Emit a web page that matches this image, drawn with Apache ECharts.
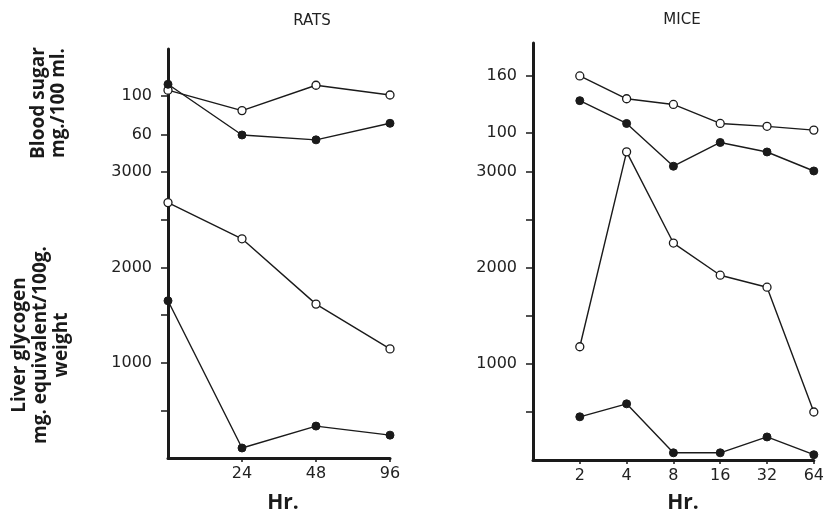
<!DOCTYPE html>
<html>
<head>
<meta charset="utf-8">
<script src="https://cdn.jsdelivr.net/npm/echarts@6/dist/echarts.min.js"></script>
<style>
html,body{margin:0;padding:0;background:#fff;}
#c{width:827px;height:514px;}
</style>
</head>
<body>
<div id="c"></div>
<script>
// ---- data ----
const ratsHours = ['0', '24', '48', '96'];
const ratsSugarFilled = [112, 60, 55, 72];
const ratsSugarOpen = [106, 85, 111, 101];
const ratsGlycogenOpen = [2680, 2300, 1615, 1145];
const ratsGlycogenFilled = [1650, 105, 335, 240];

const miceAxisHours = ['1', '2', '4', '8', '16', '32', '64'];
const miceHours = ['2', '4', '8', '16', '32', '64'];
const miceSugarOpen = [160, 136, 130, 110, 107, 103];
const miceSugarFilled = [134, 110, 65, 90, 80, 60];
const miceGlycogenOpen = [1180, 3210, 2260, 1925, 1800, 500];
const miceGlycogenFilled = [450, 585, 75, 75, 240, 55];

const glycogenTicks = [500, 1000, 1500, 2000, 2500, 3000];
const glycogenLabels = [1000, 2000, 3000];
const ratsSugarLabels = [60, 100];
const miceSugarLabels = [100, 160];

// ---- styles ----
const INK = '#1a1a1a';
const labelFont = { fontFamily: 'DejaVu Sans', fontSize: 16, color: '#222' };

function pairs(hours, vals) { return hours.map((h, i) => [h, vals[i]]); }

function lineSeries(xi, yi, data, filled) {
  return {
    type: 'line', xAxisIndex: xi, yAxisIndex: yi, data: data,
    symbol: 'circle', symbolSize: 8, clip: false, silent: true,
    lineStyle: { color: INK, width: 1.4 },
    itemStyle: filled ? { color: INK, borderColor: INK, borderWidth: 1 }
                      : { color: '#fff', borderColor: INK, borderWidth: 1.3 },
    z: 3
  };
}

const plain = function (v) { return String(v); };

function glycoAxis(gi, max) {
  return {
    type: 'value', gridIndex: gi, position: 'left', min: 0, max: max,
    splitLine: { show: false },
    axisLine: { show: true, lineStyle: { color: INK, width: 3 } },
    axisTick: { show: true, length: 7, inside: false, customValues: glycogenTicks,
                lineStyle: { color: INK, width: 1.5 } },
    axisLabel: Object.assign({ margin: 16, customValues: glycogenLabels, formatter: plain }, labelFont)
  };
}
function sugarAxis(gi, min, max, labels) {
  return {
    type: 'value', gridIndex: gi, position: 'left', min: min, max: max,
    splitLine: { show: false },
    axisLine: { show: false },
    axisTick: { show: true, length: 7, inside: false, customValues: labels,
                lineStyle: { color: INK, width: 1.5 } },
    axisLabel: Object.assign({ margin: 16, customValues: labels, formatter: plain }, labelFont)
  };
}
function xAxisCat(gi, data) {
  return {
    type: 'category', gridIndex: gi, data: data, boundaryGap: false,
    axisLine: { show: true, lineStyle: { color: INK, width: 3 } },
    axisTick: { show: true, length: 4, inside: false,
                interval: function (i) { return i > 0; },
                lineStyle: { color: INK, width: 1.5 } },
    axisLabel: Object.assign({ margin: 8, interval: 0,
                formatter: function (v, i) { return i === 0 ? '' : v; } }, labelFont),
    splitLine: { show: false }
  };
}

const titleFont = 'bold 19px "Open Sans"';

const option = {
  backgroundColor: '#fff',
  animation: false,
  grid: [
    { left: 168, top: 49, width: 222, height: 409 },
    { left: 533, top: 43, width: 286, height: 417 }
  ],
  xAxis: [xAxisCat(0, ratsHours), xAxisCat(1, miceAxisHours)],
  yAxis: [
    glycoAxis(0, 4292),
    sugarAxis(0, -271.3, 148.2, ratsSugarLabels),
    glycoAxis(1, 4344),
    sugarAxis(1, -244.2, 194.7, miceSugarLabels)
  ],
  series: [
    lineSeries(0, 1, pairs(ratsHours, ratsSugarOpen), false),
    lineSeries(0, 1, pairs(ratsHours, ratsSugarFilled), true),
    lineSeries(0, 0, pairs(ratsHours, ratsGlycogenOpen), false),
    lineSeries(0, 0, pairs(ratsHours, ratsGlycogenFilled), true),
    lineSeries(1, 3, pairs(miceHours, miceSugarOpen), false),
    lineSeries(1, 3, pairs(miceHours, miceSugarFilled), true),
    lineSeries(1, 2, pairs(miceHours, miceGlycogenOpen), false),
    lineSeries(1, 2, pairs(miceHours, miceGlycogenFilled), true)
  ],
  graphic: [
    { type: 'text', x: 312, y: 21, style: { text: 'RATS', font: '15px "DejaVu Sans"', fill: '#222', align: 'center', verticalAlign: 'middle' } },
    { type: 'text', x: 682, y: 20, style: { text: 'MICE', font: '15px "DejaVu Sans"', fill: '#222', align: 'center', verticalAlign: 'middle' } },
    { type: 'text', x: 283, y: 503, style: { text: 'Hr.', font: 'bold 21px "Open Sans"', fill: INK, align: 'center', verticalAlign: 'middle' } },
    { type: 'text', x: 683, y: 503, style: { text: 'Hr.', font: 'bold 21px "Open Sans"', fill: INK, align: 'center', verticalAlign: 'middle' } },
    { type: 'text', x: 49, y: 103, rotation: Math.PI / 2,
      style: { text: 'Blood sugar\nmg./100 ml.', font: titleFont, lineHeight: 20, fill: INK, align: 'center', verticalAlign: 'middle' } },
    { type: 'text', x: 41, y: 345, rotation: Math.PI / 2,
      style: { text: 'Liver glycogen\nmg. equivalent/100g.\nweight', font: titleFont, lineHeight: 21, fill: INK, align: 'center', verticalAlign: 'middle' } }
  ]
};

const chart = echarts.init(document.getElementById('c'), null, { renderer: 'canvas' });
chart.setOption(option);
</script>
</body>
</html>
